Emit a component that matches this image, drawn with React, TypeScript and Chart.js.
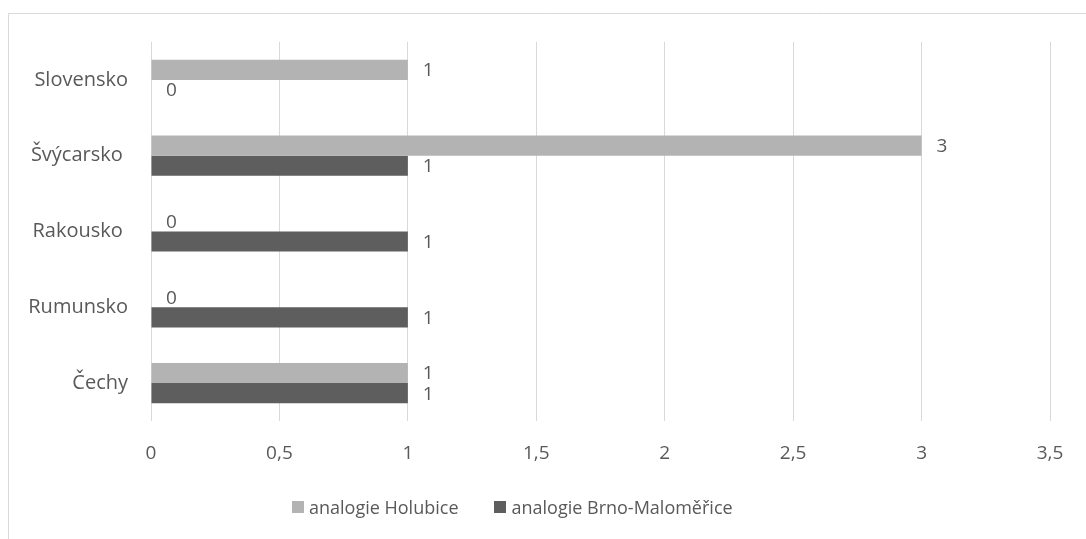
import React, { useEffect, useRef } from "react";
import { Chart, registerables } from "chart.js";

Chart.register(...registerables);

const categories = ["Slovensko", "Švýcarsko ", "Rakousko ", "Rumunsko", "Čechy"];
const seriesNames = ["analogie Holubice", "analogie Brno-Maloměřice"];
const holubice = [1, 3, 0, 0, 1];
const brno = [0, 1, 1, 1, 1];
const xTickLabels = ["0", "0,5", "1", "1,5", "2", "2,5", "3", "3,5"];
const colors = ["#b3b3b3", "#5e5e5e"];

const FONT = "'Open Sans', sans-serif";
const TEXT = "#595959";

const borderPlugin = {
  id: "outerBorder",
  beforeDraw(chart: any) {
    const ctx = chart.ctx;
    ctx.save();
    ctx.strokeStyle = "#d9d9d9";
    ctx.lineWidth = 1;
    ctx.beginPath();
    ctx.moveTo(8.5, chart.height);
    ctx.lineTo(8.5, 13.5);
    ctx.lineTo(chart.width, 13.5);
    ctx.stroke();
    ctx.restore();
  },
};

const labelPlugin = {
  id: "barLabels",
  afterDatasetsDraw(chart: any) {
    const ctx = chart.ctx;
    ctx.save();
    ctx.fillStyle = TEXT;
    ctx.font = `19px ${FONT}`;
    ctx.textAlign = "left";
    ctx.textBaseline = "middle";
    chart.data.datasets.forEach((ds: any, di: number) => {
      const meta = chart.getDatasetMeta(di);
      meta.data.forEach((bar: any, i: number) => {
        ctx.fillText(String(ds.data[i]), bar.x + 15, bar.y + 1);
      });
    });
    ctx.restore();
  },
};

export default function App() {
  const ref = useRef<HTMLCanvasElement>(null);

  useEffect(() => {
    document.body.style.margin = "0";
    document.body.style.overflow = "hidden";
    const chart = new Chart(ref.current!, {
      type: "bar",
      data: {
        labels: categories,
        datasets: [
          { label: seriesNames[0], data: holubice, backgroundColor: colors[0], categoryPercentage: 0.53, barPercentage: 1.0 },
          { label: seriesNames[1], data: brno, backgroundColor: colors[1], categoryPercentage: 0.53, barPercentage: 1.0 },
        ],
      },
      options: {
        indexAxis: "y",
        animation: false,
        responsive: false,
        maintainAspectRatio: false,
        layout: { padding: { left: 0, right: 36, top: 42, bottom: 78 } },
        plugins: { legend: { display: false }, tooltip: { enabled: false } },
        scales: {
          x: {
            min: 0,
            max: 3.5,
            ticks: {
              stepSize: 0.5,
              color: TEXT,
              font: { family: FONT, size: 19 },
              padding: 21,
              callback: (_v: any, i: number) => xTickLabels[i],
            },
            grid: { color: "#d9d9d9", drawTicks: false },
            border: { display: false },
            afterFit: (s: any) => { s.height = 40; },
          },
          y: {
            ticks: { color: TEXT, font: { family: FONT, size: 20 }, padding: 23 },
            grid: { display: false, drawTicks: false },
            border: { display: false },
            afterFit: (s: any) => { s.width = 151; },
          },
        },
      },
      plugins: [borderPlugin, labelPlugin],
    });
    return () => chart.destroy();
  }, []);

  return (
    <div style={{ position: "relative", width: 1086, height: 539 }}>
      <canvas ref={ref} width={1086} height={539} style={{ display: "block" }} />
      <div
        style={{
          position: "absolute",
          left: 292,
          top: 496,
          display: "flex",
          alignItems: "center",
          fontFamily: FONT,
          fontSize: 18,
          color: TEXT,
          lineHeight: "22px",
        }}
      >
        {seriesNames.map((n, i) => (
          <div key={n} style={{ display: "flex", alignItems: "center", marginRight: i === 0 ? 36 : 0 }}>
            <span style={{ width: 12, height: 12, background: colors[i], marginRight: 5, display: "inline-block" }} />
            <span>{n}</span>
          </div>
        ))}
      </div>
    </div>
  );
}
